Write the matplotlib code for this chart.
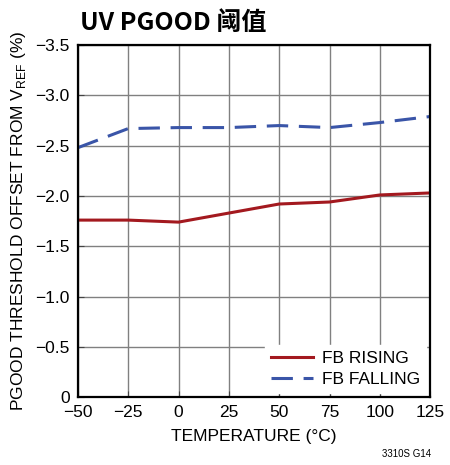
import numpy as np
import matplotlib.pyplot as plt

plt.rcParams['font.family'] = ['Liberation Sans', 'DejaVu Sans']
plt.rcParams['mathtext.fontset'] = 'custom'
plt.rcParams['mathtext.rm'] = 'Liberation Sans'

temp = [-50, -25, 0, 25, 50, 75, 100, 125]
fb_rising = [-1.76, -1.76, -1.74, -1.83, -1.92, -1.94, -2.01, -2.03]
fb_falling = [-2.48, -2.67, -2.68, -2.68, -2.70, -2.68, -2.73, -2.79]

xticks = [-50, -25, 0, 25, 50, 75, 100, 125]
yticks = [0, -0.5, -1.0, -1.5, -2.0, -2.5, -3.0, -3.5]

fig = plt.figure(figsize=(4.5, 4.65), dpi=100)
ax = fig.add_axes([0.173, 0.146, 0.783, 0.757])

ax.plot(temp, fb_rising, color='#a3191f', lw=2.2, label='FB RISING')
ax.plot(temp, fb_falling, color='#3a55a8', lw=2.2, dashes=(7, 3.5), label='FB FALLING')

ax.set_xlim(-50, 125)
ax.set_ylim(0, -3.5)
ax.set_xticks(xticks)
ax.set_xticklabels(['\u221250', '\u221225', '0', '25', '50', '75', '100', '125'])
ax.set_yticks(yticks)
ax.set_yticklabels(['0', '\u22120.5', '\u22121.0', '\u22121.5', '\u22122.0',
                    '\u22122.5', '\u22123.0', '\u22123.5'])
ax.tick_params(labelsize=12.5, length=4, direction='in', pad=6, color='#444444')
ax.grid(color='#808080', lw=1)
ax.set_axisbelow(True)
for s in ax.spines.values():
    s.set_linewidth(1.6)

ax.set_xlabel('TEMPERATURE (\u00b0C)', fontsize=12.5, labelpad=6)
ax.set_ylabel(r'PGOOD THRESHOLD OFFSET FROM V$_{\mathrm{REF}}$ (%)', fontsize=12.5, labelpad=5)

leg = ax.legend(loc='lower right', fontsize=12.5, frameon=True, fancybox=False,
                framealpha=1, edgecolor='white', handlelength=2.4,
                borderpad=0.35, labelspacing=0.3, borderaxespad=0.25,
                handletextpad=0.5)

fig.text(0.178, 0.95, 'UV PGOOD 阈值', fontsize=18, fontweight='bold',
         family=['Noto Sans CJK SC', 'DejaVu Sans'], va='center', ha='left')
fig.text(0.958, 0.012, '3310S G14', fontsize=7, ha='right', va='bottom')

fig.savefig('out.png', dpi=100)
